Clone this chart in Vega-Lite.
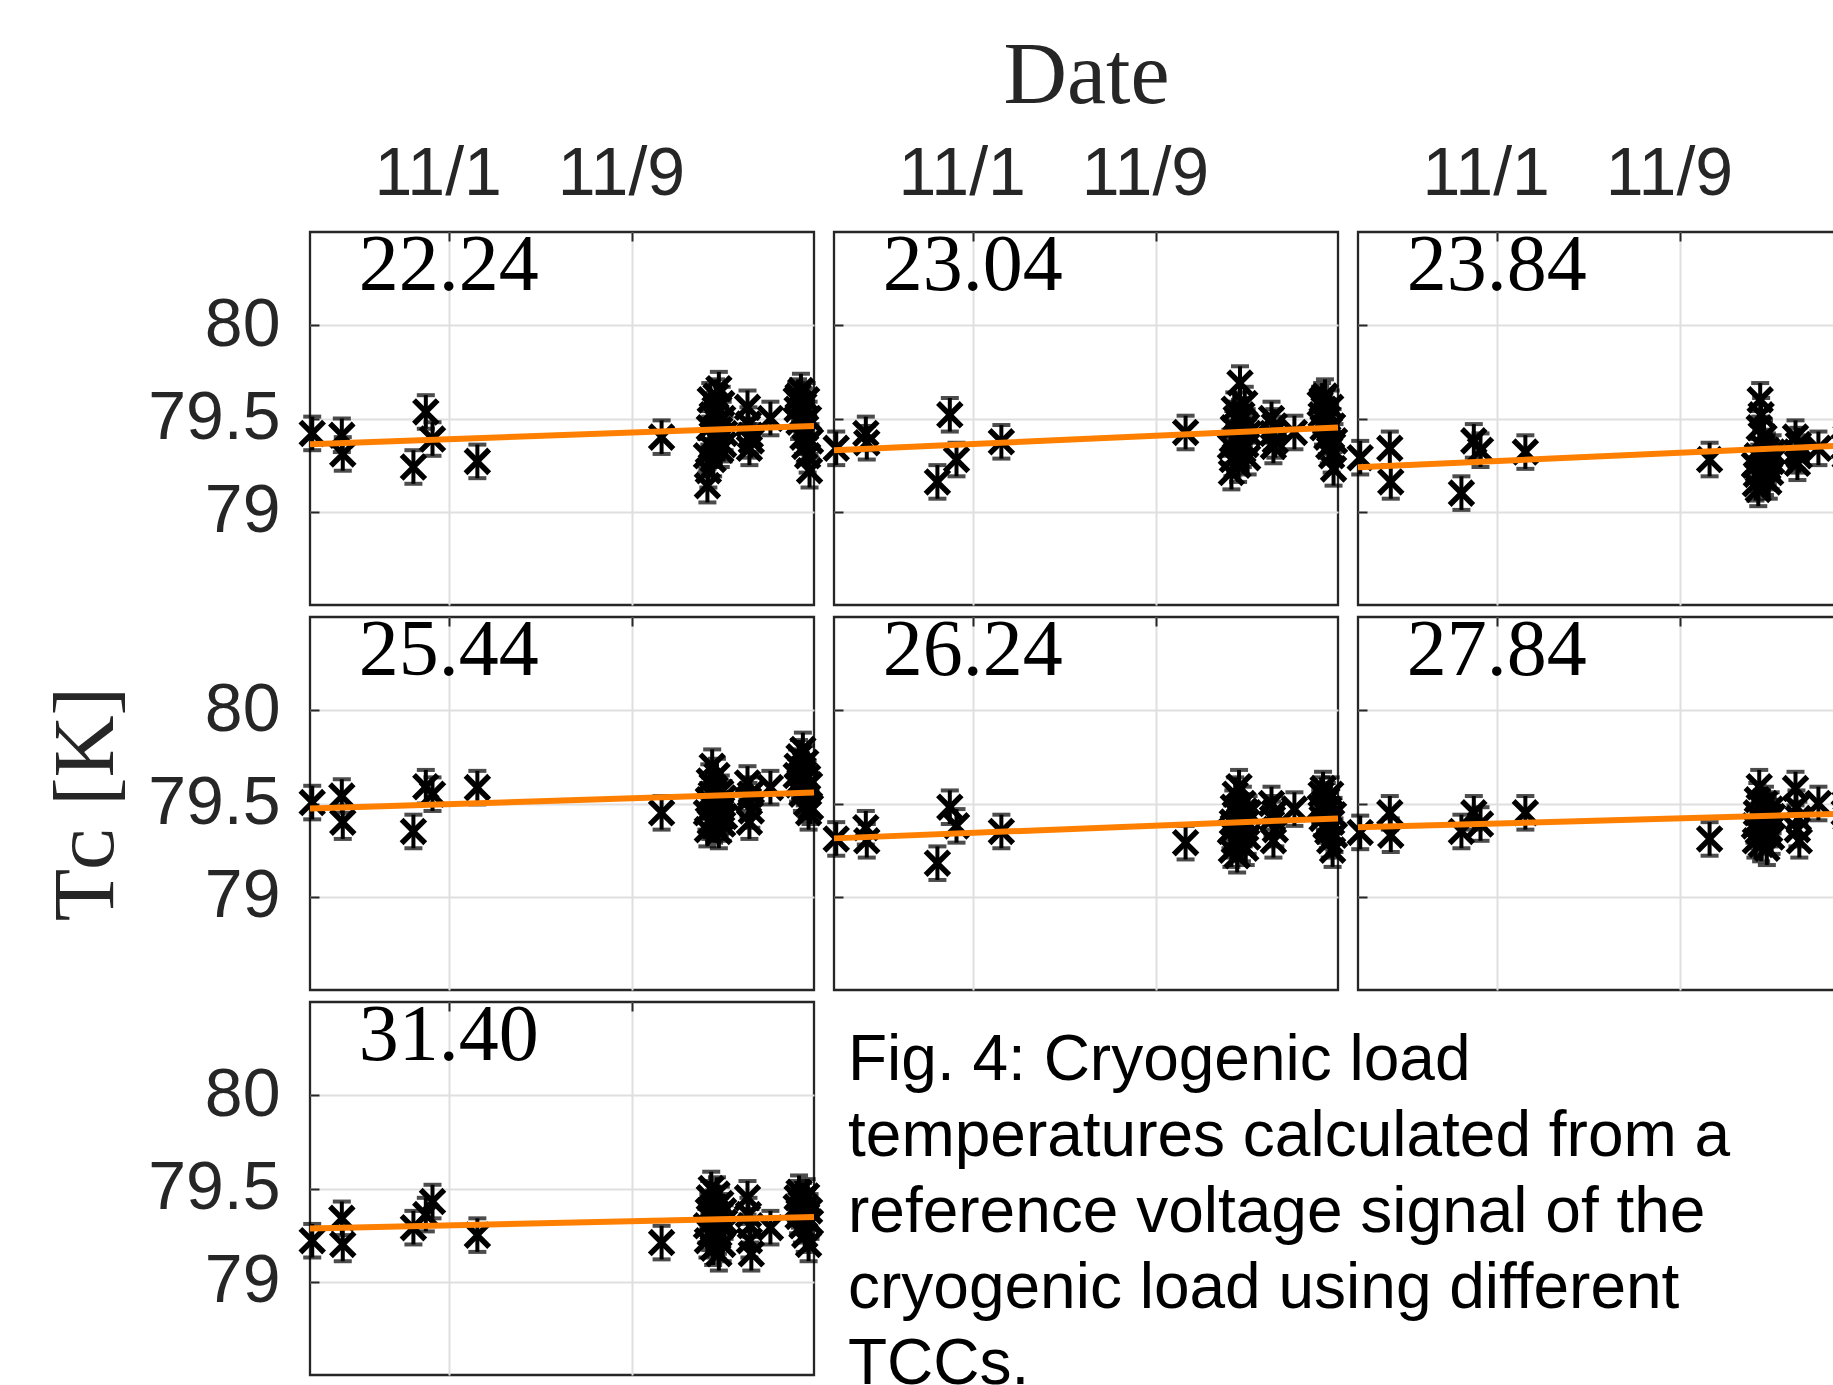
{
"$schema": "https://vega.github.io/schema/vega-lite/v6.json",
"background": "white",
"autosize": {"type": "pad"},
"padding": {"left": 42, "top": 30, "right": 0, "bottom": 0},
"datasets": {
"pts": [
{"t":"2018-10-26T01:00Z","e":0.09,"T2224":79.42,"T2304":79.34,"T2384":79.29,"T2544":79.505,"T2624":79.31,"T2784":79.345,"T3140":79.22},
{"t":"2018-10-27T08:00Z","e":0.09,"T2224":79.41,"T2304":79.42,"T2384":79.34,"T2544":79.54,"T2624":79.37,"T2784":79.45,"T3140":79.34},
{"t":"2018-10-27T09:00Z","e":0.09,"T2224":79.31,"T2304":79.37,"T2384":79.16,"T2544":79.40,"T2624":79.30,"T2784":79.33,"T3140":79.20},
{"t":"2018-10-30T11:00Z","e":0.09,"T2224":79.24,"T2304":79.16,"T2384":79.10,"T2544":79.35,"T2624":79.18,"T2784":79.35,"T3140":79.29},
{"t":"2018-10-31T00:00Z","e":0.09,"T2224":79.535,"T2304":79.52,"T2384":79.38,"T2544":79.59,"T2624":79.48,"T2784":79.45,"T3140":79.36},
{"t":"2018-10-31T07:00Z","e":0.09,"T2224":79.39,"T2304":79.28,"T2384":79.33,"T2544":79.55,"T2624":79.38,"T2784":79.39,"T3140":79.43},
{"t":"2018-11-02T06:00Z","e":0.09,"T2224":79.27,"T2304":79.375,"T2384":79.32,"T2544":79.585,"T2624":79.35,"T2784":79.45,"T3140":79.25},
{"t":"2018-11-10T07:00Z","e":0.09,"T2224":79.40,"T2304":79.425,"T2384":79.28,"T2544":79.45,"T2624":79.29,"T2784":79.31,"T3140":79.21},
{"t":"2018-11-12T06:00Z","e":0.09,"T2224":79.30,"T2304":79.35,"T2384":79.25,"T2544":79.45,"T2624":79.35,"T2784":79.38,"T3140":79.30},
{"t":"2018-11-12T07:00Z","e":0.09,"T2224":79.14,"T2304":79.21,"T2384":79.15,"T2544":79.36,"T2624":79.25,"T2784":79.30,"T3140":79.22},
{"t":"2018-11-12T08:00Z","e":0.09,"T2224":79.22,"T2304":79.28,"T2384":79.20,"T2544":79.52,"T2624":79.40,"T2784":79.45,"T3140":79.38},
{"t":"2018-11-12T09:00Z","e":0.09,"T2224":79.45,"T2304":79.45,"T2384":79.30,"T2544":79.62,"T2624":79.48,"T2784":79.52,"T3140":79.45},
{"t":"2018-11-12T10:00Z","e":0.09,"T2224":79.60,"T2304":79.55,"T2384":79.12,"T2544":79.40,"T2624":79.30,"T2784":79.35,"T3140":79.26},
{"t":"2018-11-12T11:00Z","e":0.09,"T2224":79.35,"T2304":79.30,"T2384":79.45,"T2544":79.55,"T2624":79.55,"T2784":79.59,"T3140":79.50},
{"t":"2018-11-12T12:00Z","e":0.09,"T2224":79.52,"T2304":79.50,"T2384":79.60,"T2544":79.70,"T2624":79.38,"T2784":79.42,"T3140":79.33},
{"t":"2018-11-12T13:00Z","e":0.09,"T2224":79.28,"T2304":79.40,"T2384":79.52,"T2544":79.48,"T2624":79.22,"T2784":79.28,"T3140":79.18},
{"t":"2018-11-12T14:00Z","e":0.09,"T2224":79.40,"T2304":79.25,"T2384":79.35,"T2544":79.38,"T2624":79.44,"T2784":79.48,"T3140":79.40},
{"t":"2018-11-12T15:00Z","e":0.09,"T2224":79.55,"T2304":79.48,"T2384":79.22,"T2544":79.58,"T2624":79.59,"T2784":79.40,"T3140":79.28},
{"t":"2018-11-12T16:00Z","e":0.09,"T2224":79.62,"T2304":79.69,"T2384":79.40,"T2544":79.44,"T2624":79.33,"T2784":79.33,"T3140":79.35},
{"t":"2018-11-12T17:00Z","e":0.09,"T2224":79.38,"T2304":79.38,"T2384":79.18,"T2544":79.65,"T2624":79.42,"T2784":79.50,"T3140":79.47},
{"t":"2018-11-12T18:00Z","e":0.09,"T2224":79.48,"T2304":79.52,"T2384":79.28,"T2544":79.50,"T2624":79.28,"T2784":79.37,"T3140":79.24},
{"t":"2018-11-12T19:00Z","e":0.09,"T2224":79.66,"T2304":79.33,"T2384":79.33,"T2544":79.35,"T2624":79.50,"T2784":79.26,"T3140":79.15},
{"t":"2018-11-12T20:00Z","e":0.09,"T2224":79.44,"T2304":79.44,"T2384":79.24,"T2544":79.42,"T2624":79.36,"T2784":79.44,"T3140":79.36},
{"t":"2018-11-12T21:00Z","e":0.09,"T2224":79.33,"T2304":79.58,"T2384":79.16,"T2544":79.56,"T2624":79.46,"T2784":79.41,"T3140":79.42},
{"t":"2018-11-12T22:00Z","e":0.09,"T2224":79.58,"T2304":79.36,"T2384":79.30,"T2544":79.47,"T2624":79.26,"T2784":79.36,"T3140":79.30},
{"t":"2018-11-12T23:00Z","e":0.09,"T2224":79.50,"T2304":79.46,"T2384":79.21,"T2544":79.39,"T2624":79.40,"T2784":79.47,"T3140":79.20},
{"t":"2018-11-13T00:00Z","e":0.09,"T2224":79.36,"T2304":79.29,"T2384":79.27,"T2544":79.53,"T2624":79.32,"T2784":79.32,"T3140":79.38},
{"t":"2018-11-13T01:00Z","e":0.09,"T2224":79.42,"T2304":79.42,"T2384":79.32,"T2544":79.43,"T2624":79.45,"T2784":79.43,"T3140":79.32},
{"t":"2018-11-14T01:00Z","e":0.09,"T2224":79.56,"T2304":79.50,"T2384":79.40,"T2544":79.61,"T2624":79.50,"T2784":79.58,"T3140":79.45},
{"t":"2018-11-14T02:00Z","e":0.09,"T2224":79.47,"T2304":79.42,"T2384":79.32,"T2544":79.52,"T2624":79.42,"T2784":79.48,"T3140":79.36},
{"t":"2018-11-14T03:00Z","e":0.09,"T2224":79.34,"T2304":79.35,"T2384":79.26,"T2544":79.40,"T2624":79.30,"T2784":79.36,"T3140":79.22},
{"t":"2018-11-14T04:00Z","e":0.09,"T2224":79.41,"T2304":79.46,"T2384":79.36,"T2544":79.55,"T2624":79.45,"T2784":79.42,"T3140":79.30},
{"t":"2018-11-14T05:00Z","e":0.09,"T2224":79.38,"T2304":79.38,"T2384":79.30,"T2544":79.46,"T2624":79.36,"T2784":79.30,"T3140":79.15},
{"t":"2018-11-15T01:00Z","e":0.09,"T2224":79.50,"T2304":79.425,"T2384":79.34,"T2544":79.585,"T2624":79.47,"T2784":79.50,"T3140":79.29},
{"t":"2018-11-16T04:00Z","e":0.09,"T2224":79.60,"T2304":79.58,"T2384":79.35,"T2544":79.65,"T2624":79.48,"T2784":79.45,"T3140":79.40},
{"t":"2018-11-16T05:00Z","e":0.09,"T2224":79.55,"T2304":79.52,"T2384":79.30,"T2544":79.70,"T2624":79.55,"T2784":79.50,"T3140":79.45},
{"t":"2018-11-16T06:00Z","e":0.09,"T2224":79.62,"T2304":79.60,"T2384":79.40,"T2544":79.60,"T2624":79.42,"T2784":79.42,"T3140":79.35},
{"t":"2018-11-16T07:00Z","e":0.09,"T2224":79.48,"T2304":79.45,"T2384":79.28,"T2544":79.75,"T2624":79.58,"T2784":79.52,"T3140":79.48},
{"t":"2018-11-16T08:00Z","e":0.09,"T2224":79.58,"T2304":79.55,"T2384":79.38,"T2544":79.62,"T2624":79.50,"T2784":79.47,"T3140":79.38},
{"t":"2018-11-16T09:00Z","e":0.09,"T2224":79.65,"T2304":79.62,"T2384":79.42,"T2544":79.68,"T2624":79.45,"T2784":79.40,"T3140":79.42},
{"t":"2018-11-16T10:00Z","e":0.09,"T2224":79.52,"T2304":79.48,"T2384":79.33,"T2544":79.55,"T2624":79.38,"T2784":79.48,"T3140":79.30},
{"t":"2018-11-16T11:00Z","e":0.09,"T2224":79.40,"T2304":79.40,"T2384":79.25,"T2544":79.79,"T2624":79.52,"T2784":79.44,"T3140":79.44},
{"t":"2018-11-16T12:00Z","e":0.09,"T2224":79.57,"T2304":79.50,"T2384":79.36,"T2544":79.66,"T2624":79.35,"T2784":79.50,"T3140":79.36},
{"t":"2018-11-16T13:00Z","e":0.09,"T2224":79.35,"T2304":79.35,"T2384":79.30,"T2544":79.58,"T2624":79.47,"T2784":79.38,"T3140":79.25},
{"t":"2018-11-16T14:00Z","e":0.09,"T2224":79.45,"T2304":79.44,"T2384":79.38,"T2544":79.72,"T2624":79.30,"T2784":79.46,"T3140":79.40},
{"t":"2018-11-16T15:00Z","e":0.09,"T2224":79.60,"T2304":79.56,"T2384":79.44,"T2544":79.50,"T2624":79.55,"T2784":79.52,"T3140":79.46},
{"t":"2018-11-16T16:00Z","e":0.09,"T2224":79.30,"T2304":79.30,"T2384":79.27,"T2544":79.64,"T2624":79.40,"T2784":79.41,"T3140":79.33},
{"t":"2018-11-16T17:00Z","e":0.09,"T2224":79.50,"T2304":79.46,"T2384":79.35,"T2544":79.45,"T2624":79.25,"T2784":79.36,"T3140":79.20},
{"t":"2018-11-16T18:00Z","e":0.09,"T2224":79.22,"T2304":79.23,"T2384":79.22,"T2544":79.60,"T2624":79.44,"T2784":79.48,"T3140":79.38},
{"t":"2018-11-16T19:00Z","e":0.09,"T2224":79.38,"T2304":79.38,"T2384":79.32,"T2544":79.48,"T2624":79.33,"T2784":79.43,"T3140":79.32}
],
"fit": [
{"t":"2018-10-25T22:40Z","T2224":79.362,"T2304":79.33,"T2384":79.238,"T2544":79.473,"T2624":79.313,"T2784":79.372,"T3140":79.286},
{"t":"2018-11-16T22:40Z","T2224":79.46,"T2304":79.452,"T2384":79.36,"T2544":79.559,"T2624":79.42,"T2784":79.448,"T3140":79.347}
],
"cap": [
{"n":1,"line":"Fig. 4: Cryogenic load"},
{"n":2,"line":"temperatures calculated from a"},
{"n":3,"line":"reference voltage signal of the"},
{"n":4,"line":"cryogenic load using different"},
{"n":5,"line":"TCCs."}
]
},
"columns": 3,
"spacing": {"row": 12, "column": 20},
"bounds": "flush",
"concat": [
{"width":504,"height":373,
 "encoding":{"x":{"field":"t","type":"temporal","scale":{"type":"utc","domain":[1540507200000,1542408000000]},"axis":{"orient":"top","values":[{"year":2018,"month":11,"date":1,"utc":true},{"year":2018,"month":11,"date":9,"utc":true}],"format":"%-m/%-d","labelPadding":33,"labelFlush":false,"labelOffset":-11,"title":null}},
  "y":{"field":"T2224","type":"quantitative","scale":{"domain":[78.5,80.5],"nice":false,"zero":false},"axis":{"values":[79,79.5,80],"format":"~g","labelPadding":39,"title":null}}},
 "layer":[
  {"data":{"name":"pts"},"mark":{"type":"errorbar","ticks":true,"size":18,"thickness":4,"color":"black"},"encoding":{"yError":{"field":"e"}}},
  {"data":{"name":"pts"},"mark":{"type":"point","shape":"M-1,-1L1,1M-1,1L1,-1","size":560,"strokeWidth":5.5,"color":"black","opacity":1}},
  {"data":{"name":"fit"},"mark":{"type":"line","color":"#ff8000","strokeWidth":6}},
  {"data":{"values":[{"t":"2018-11-01T00:00Z","y":80.19,"tcc":"22.24"}]},"mark":{"type":"text","font":"Liberation Serif","fontSize":80,"align":"center","baseline":"alphabetic","color":"black"},"encoding":{"y":{"field":"y","type":"quantitative"},"text":{"field":"tcc"}}}
 ]},
{"width":504,"height":373,
 "encoding":{"x":{"field":"t","type":"temporal","scale":{"type":"utc","domain":[1540507200000,1542408000000]},"axis":{"orient":"top","values":[{"year":2018,"month":11,"date":1,"utc":true},{"year":2018,"month":11,"date":9,"utc":true}],"format":"%-m/%-d","labelPadding":33,"labelFlush":false,"labelOffset":-11,"title":"Date","titleFontSize":88,"titlePadding":20}},
  "y":{"field":"T2304","type":"quantitative","scale":{"domain":[78.5,80.5],"nice":false,"zero":false},"axis":{"values":[79,79.5,80],"labels":false,"title":null}}},
 "layer":[
  {"data":{"name":"pts"},"mark":{"type":"errorbar","ticks":true,"size":18,"thickness":4,"color":"black"},"encoding":{"yError":{"field":"e"}}},
  {"data":{"name":"pts"},"mark":{"type":"point","shape":"M-1,-1L1,1M-1,1L1,-1","size":560,"strokeWidth":5.5,"color":"black","opacity":1}},
  {"data":{"name":"fit"},"mark":{"type":"line","color":"#ff8000","strokeWidth":6}},
  {"data":{"values":[{"t":"2018-11-01T00:00Z","y":80.19,"tcc":"23.04"}]},"mark":{"type":"text","font":"Liberation Serif","fontSize":80,"align":"center","baseline":"alphabetic","color":"black"},"encoding":{"y":{"field":"y","type":"quantitative"},"text":{"field":"tcc"}}}
 ]},
{"width":504,"height":373,
 "encoding":{"x":{"field":"t","type":"temporal","scale":{"type":"utc","domain":[1540507200000,1542408000000]},"axis":{"orient":"top","values":[{"year":2018,"month":11,"date":1,"utc":true},{"year":2018,"month":11,"date":9,"utc":true}],"format":"%-m/%-d","labelPadding":33,"labelFlush":false,"labelOffset":-11,"title":null}},
  "y":{"field":"T2384","type":"quantitative","scale":{"domain":[78.5,80.5],"nice":false,"zero":false},"axis":{"values":[79,79.5,80],"labels":false,"title":null}}},
 "layer":[
  {"data":{"name":"pts"},"mark":{"type":"errorbar","ticks":true,"size":18,"thickness":4,"color":"black"},"encoding":{"yError":{"field":"e"}}},
  {"data":{"name":"pts"},"mark":{"type":"point","shape":"M-1,-1L1,1M-1,1L1,-1","size":560,"strokeWidth":5.5,"color":"black","opacity":1}},
  {"data":{"name":"fit"},"mark":{"type":"line","color":"#ff8000","strokeWidth":6}},
  {"data":{"values":[{"t":"2018-11-01T00:00Z","y":80.19,"tcc":"23.84"}]},"mark":{"type":"text","font":"Liberation Serif","fontSize":80,"align":"center","baseline":"alphabetic","color":"black"},"encoding":{"y":{"field":"y","type":"quantitative"},"text":{"field":"tcc"}}}
 ]},
{"width":504,"height":373,
 "encoding":{"x":{"field":"t","type":"temporal","scale":{"type":"utc","domain":[1540507200000,1542408000000]},"axis":{"orient":"top","values":[{"year":2018,"month":11,"date":1,"utc":true},{"year":2018,"month":11,"date":9,"utc":true}],"labels":false,"title":null}},
  "y":{"field":"T2544","type":"quantitative","scale":{"domain":[78.5,80.5],"nice":false,"zero":false},"axis":{"values":[79,79.5,80],"format":"~g","labelPadding":39,"title":"Tᴄ [K]","titleFontSize":86,"titlePadding":17}}},
 "layer":[
  {"data":{"name":"pts"},"mark":{"type":"errorbar","ticks":true,"size":18,"thickness":4,"color":"black"},"encoding":{"yError":{"field":"e"}}},
  {"data":{"name":"pts"},"mark":{"type":"point","shape":"M-1,-1L1,1M-1,1L1,-1","size":560,"strokeWidth":5.5,"color":"black","opacity":1}},
  {"data":{"name":"fit"},"mark":{"type":"line","color":"#ff8000","strokeWidth":6}},
  {"data":{"values":[{"t":"2018-11-01T00:00Z","y":80.19,"tcc":"25.44"}]},"mark":{"type":"text","font":"Liberation Serif","fontSize":80,"align":"center","baseline":"alphabetic","color":"black"},"encoding":{"y":{"field":"y","type":"quantitative"},"text":{"field":"tcc"}}}
 ]},
{"width":504,"height":373,
 "encoding":{"x":{"field":"t","type":"temporal","scale":{"type":"utc","domain":[1540507200000,1542408000000]},"axis":{"orient":"top","values":[{"year":2018,"month":11,"date":1,"utc":true},{"year":2018,"month":11,"date":9,"utc":true}],"labels":false,"title":null}},
  "y":{"field":"T2624","type":"quantitative","scale":{"domain":[78.5,80.5],"nice":false,"zero":false},"axis":{"values":[79,79.5,80],"labels":false,"title":null}}},
 "layer":[
  {"data":{"name":"pts"},"mark":{"type":"errorbar","ticks":true,"size":18,"thickness":4,"color":"black"},"encoding":{"yError":{"field":"e"}}},
  {"data":{"name":"pts"},"mark":{"type":"point","shape":"M-1,-1L1,1M-1,1L1,-1","size":560,"strokeWidth":5.5,"color":"black","opacity":1}},
  {"data":{"name":"fit"},"mark":{"type":"line","color":"#ff8000","strokeWidth":6}},
  {"data":{"values":[{"t":"2018-11-01T00:00Z","y":80.19,"tcc":"26.24"}]},"mark":{"type":"text","font":"Liberation Serif","fontSize":80,"align":"center","baseline":"alphabetic","color":"black"},"encoding":{"y":{"field":"y","type":"quantitative"},"text":{"field":"tcc"}}}
 ]},
{"width":504,"height":373,
 "encoding":{"x":{"field":"t","type":"temporal","scale":{"type":"utc","domain":[1540507200000,1542408000000]},"axis":{"orient":"top","values":[{"year":2018,"month":11,"date":1,"utc":true},{"year":2018,"month":11,"date":9,"utc":true}],"labels":false,"title":null}},
  "y":{"field":"T2784","type":"quantitative","scale":{"domain":[78.5,80.5],"nice":false,"zero":false},"axis":{"values":[79,79.5,80],"labels":false,"title":null}}},
 "layer":[
  {"data":{"name":"pts"},"mark":{"type":"errorbar","ticks":true,"size":18,"thickness":4,"color":"black"},"encoding":{"yError":{"field":"e"}}},
  {"data":{"name":"pts"},"mark":{"type":"point","shape":"M-1,-1L1,1M-1,1L1,-1","size":560,"strokeWidth":5.5,"color":"black","opacity":1}},
  {"data":{"name":"fit"},"mark":{"type":"line","color":"#ff8000","strokeWidth":6}},
  {"data":{"values":[{"t":"2018-11-01T00:00Z","y":80.19,"tcc":"27.84"}]},"mark":{"type":"text","font":"Liberation Serif","fontSize":80,"align":"center","baseline":"alphabetic","color":"black"},"encoding":{"y":{"field":"y","type":"quantitative"},"text":{"field":"tcc"}}}
 ]},
{"width":504,"height":373,
 "encoding":{"x":{"field":"t","type":"temporal","scale":{"type":"utc","domain":[1540507200000,1542408000000]},"axis":{"orient":"top","values":[{"year":2018,"month":11,"date":1,"utc":true},{"year":2018,"month":11,"date":9,"utc":true}],"labels":false,"title":null}},
  "y":{"field":"T3140","type":"quantitative","scale":{"domain":[78.5,80.5],"nice":false,"zero":false},"axis":{"values":[79,79.5,80],"format":"~g","labelPadding":39,"title":null}}},
 "layer":[
  {"data":{"name":"pts"},"mark":{"type":"errorbar","ticks":true,"size":18,"thickness":4,"color":"black"},"encoding":{"yError":{"field":"e"}}},
  {"data":{"name":"pts"},"mark":{"type":"point","shape":"M-1,-1L1,1M-1,1L1,-1","size":560,"strokeWidth":5.5,"color":"black","opacity":1}},
  {"data":{"name":"fit"},"mark":{"type":"line","color":"#ff8000","strokeWidth":6}},
  {"data":{"values":[{"t":"2018-11-01T00:00Z","y":80.19,"tcc":"31.40"}]},"mark":{"type":"text","font":"Liberation Serif","fontSize":80,"align":"center","baseline":"alphabetic","color":"black"},"encoding":{"y":{"field":"y","type":"quantitative"},"text":{"field":"tcc"}}}
 ]},
{"width":504,"height":373,"view":{"stroke":null},
 "data":{"name":"cap"},
 "mark":{"type":"text","align":"left","baseline":"alphabetic","font":"Liberation Sans","fontSize":64,"color":"black","dx":14},
 "encoding":{"x":{"datum":0,"type":"quantitative","scale":{"domain":[0,1]},"axis":null},
  "y":{"field":"n","type":"quantitative","scale":{"domain":[-0.026,4.882],"reverse":true,"nice":false,"zero":false},"axis":null},
  "text":{"field":"line"}}}
],
"config": {
 "view": {"stroke": "#262626", "strokeWidth": 2.3},
 "axis": {"grid": true, "ticks": true, "tickSize": -9, "tickWidth": 2, "tickColor": "#262626", "domain": false, "gridColor": "#dfdfdf", "gridWidth": 2, "gridOpacity": 1,
  "labelFont": "Liberation Sans", "labelFontSize": 68, "labelColor": "#262626",
  "titleFont": "Liberation Serif", "titleFontWeight": "normal", "titleColor": "#262626"}
}
}
